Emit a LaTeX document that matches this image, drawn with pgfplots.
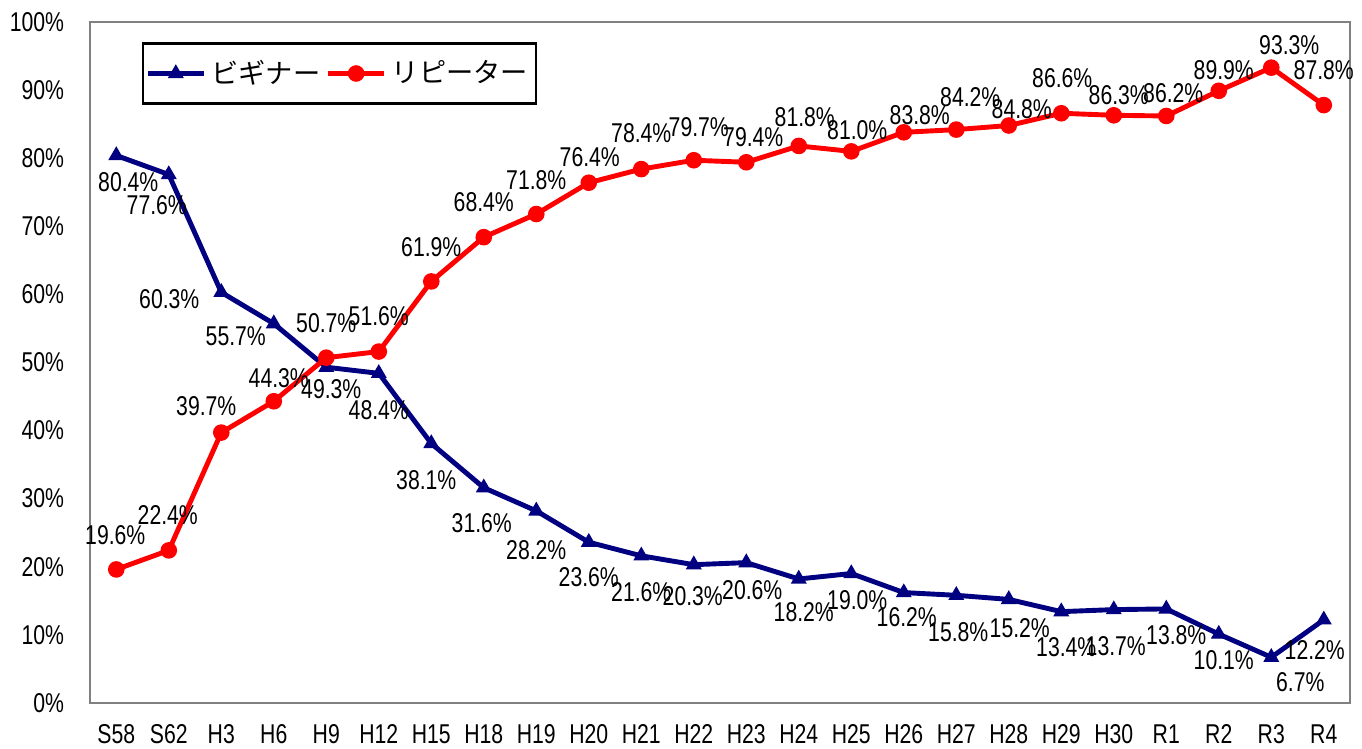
\documentclass[border=0pt]{standalone}
\usepackage{pgfplots}
\pgfplotsset{compat=1.18}
\usepackage{pgfplotstable}
\usepackage{fontspec}
\setmainfont[FakeStretch=0.78]{Liberation Sans}
\newfontfamily\jp{Noto Sans CJK JP}

\definecolor{beginner}{RGB}{0,0,128}
\definecolor{repeater}{RGB}{255,0,0}
\definecolor{framegray}{RGB}{128,128,128}

% shifts of the value labels are in pixels of the reference (1px = 0.3676pt)
\pgfplotstableread{
x  b    bdx bdy  r    rdx rdy
0  80.4  12 -27  19.6  -1  34
1  77.6 -12 -31  22.4  -1  35
2  60.3 -52  -7  39.7 -15  26
3  55.7 -38 -13  44.3   5  23
4  49.3   5 -22  50.7   0  35
5  48.4   0 -37  51.6   0  35
6  38.1  -5 -37  61.9   0  34
7  31.6  -2 -35  68.4   0  35
8  28.2   0 -39  71.8   0  34
9  23.6   0 -35  76.4   1  26
10 21.6   0 -36  78.4   0  36
11 20.3  -1 -31  79.7   5  33
12 20.6   6 -28  79.4   7  25
13 18.2   5 -33  81.8   6  29
14 19.0   6 -27  81.0   6  21
15 16.2   3 -25  83.8  16  17
16 15.8   2 -37  84.2  14  32
17 15.2  11 -29  84.8  13  16
18 13.4   5 -35  86.6   1  35
19 13.7   2 -37  86.3   5  20
20 13.8  10 -26  86.2   7  23
21 10.1   5 -26  89.9   5  21
22  6.7  29 -25  93.3  18  23
23 12.2  -9 -30  87.8   0  35
}\data

\begin{document}
\begin{tikzpicture}
\fontsize{10}{12}\selectfont
\begin{axis}[
  name=ax,
  scale only axis,
  width=463.2pt, height=250.3pt,
  xmin=-0.5, xmax=23.5,
  ymin=0, ymax=100,
  xtick={0,...,23},
  xticklabels={S58,S62,H3,H6,H9,H12,H15,H18,H19,H20,H21,H22,H23,H24,H25,H26,H27,H28,H29,H30,R1,R2,R3,R4},
  ytick={0,10,...,100},
  yticklabels={0\%,10\%,20\%,30\%,40\%,50\%,60\%,70\%,80\%,90\%,100\%},
  major tick length=0pt,
  xticklabel style={yshift=-4.5pt},
  yticklabel style={xshift=-6pt},
  axis line style={draw=framegray, line width=0.8pt},
  clip=false,
  /pgf/number format/assume math mode=true,
  legend columns=-1,
  legend style={at={(0.041,0.97)}, anchor=north west, draw=black, line width=0.8pt,
    font=\fontsize{10}{12}\selectfont, inner xsep=1pt, inner ysep=4pt,
    /tikz/every even column/.append style={column sep=0pt}},
  legend image code/.code={\draw[mark repeat=2,mark phase=2] plot coordinates {(0cm,0cm)(0.36cm,0cm)(0.72cm,0cm)};},
  lbl/.style={
    nodes near coords={\pgfmathprintnumber[fixed,fixed zerofill,precision=1]{\pgfplotspointmeta}\%},
    point meta=y,
    every node near coord/.append style={anchor=center, text=black, xshift=\dx*0.3676pt, yshift=\dy*0.3676pt, inner sep=0pt}},
]
\addlegendimage{color=beginner, line width=1.8pt, mark=triangle*, mark size=2.9pt, mark options={line width=0.5pt}}
\addlegendentry{\jp ビギナー}
\addlegendimage{color=repeater, line width=1.8pt, mark=*, mark size=2.8pt, mark options={line width=0.5pt}}
\addlegendentry{\jp リピーター}

\addplot[forget plot, color=beginner, line width=1.8pt, mark=triangle*, mark size=2.9pt,
  mark options={line width=0.5pt}, lbl,
  visualization depends on={\thisrow{bdx}\as\dx},
  visualization depends on={\thisrow{bdy}\as\dy}]
  table[x=x, y=b] {\data};
\addplot[forget plot, color=repeater, line width=1.8pt, mark=*, mark size=2.8pt,
  mark options={line width=0.5pt}, lbl,
  visualization depends on={\thisrow{rdx}\as\dx},
  visualization depends on={\thisrow{rdy}\as\dy}]
  table[x=x, y=r] {\data};
\end{axis}
\pgfresetboundingbox
\path ([xshift=-33.1pt,yshift=-16.6pt]ax.south west) rectangle ([xshift=4.4pt,yshift=8.1pt]ax.north east);
\end{tikzpicture}
\end{document}
